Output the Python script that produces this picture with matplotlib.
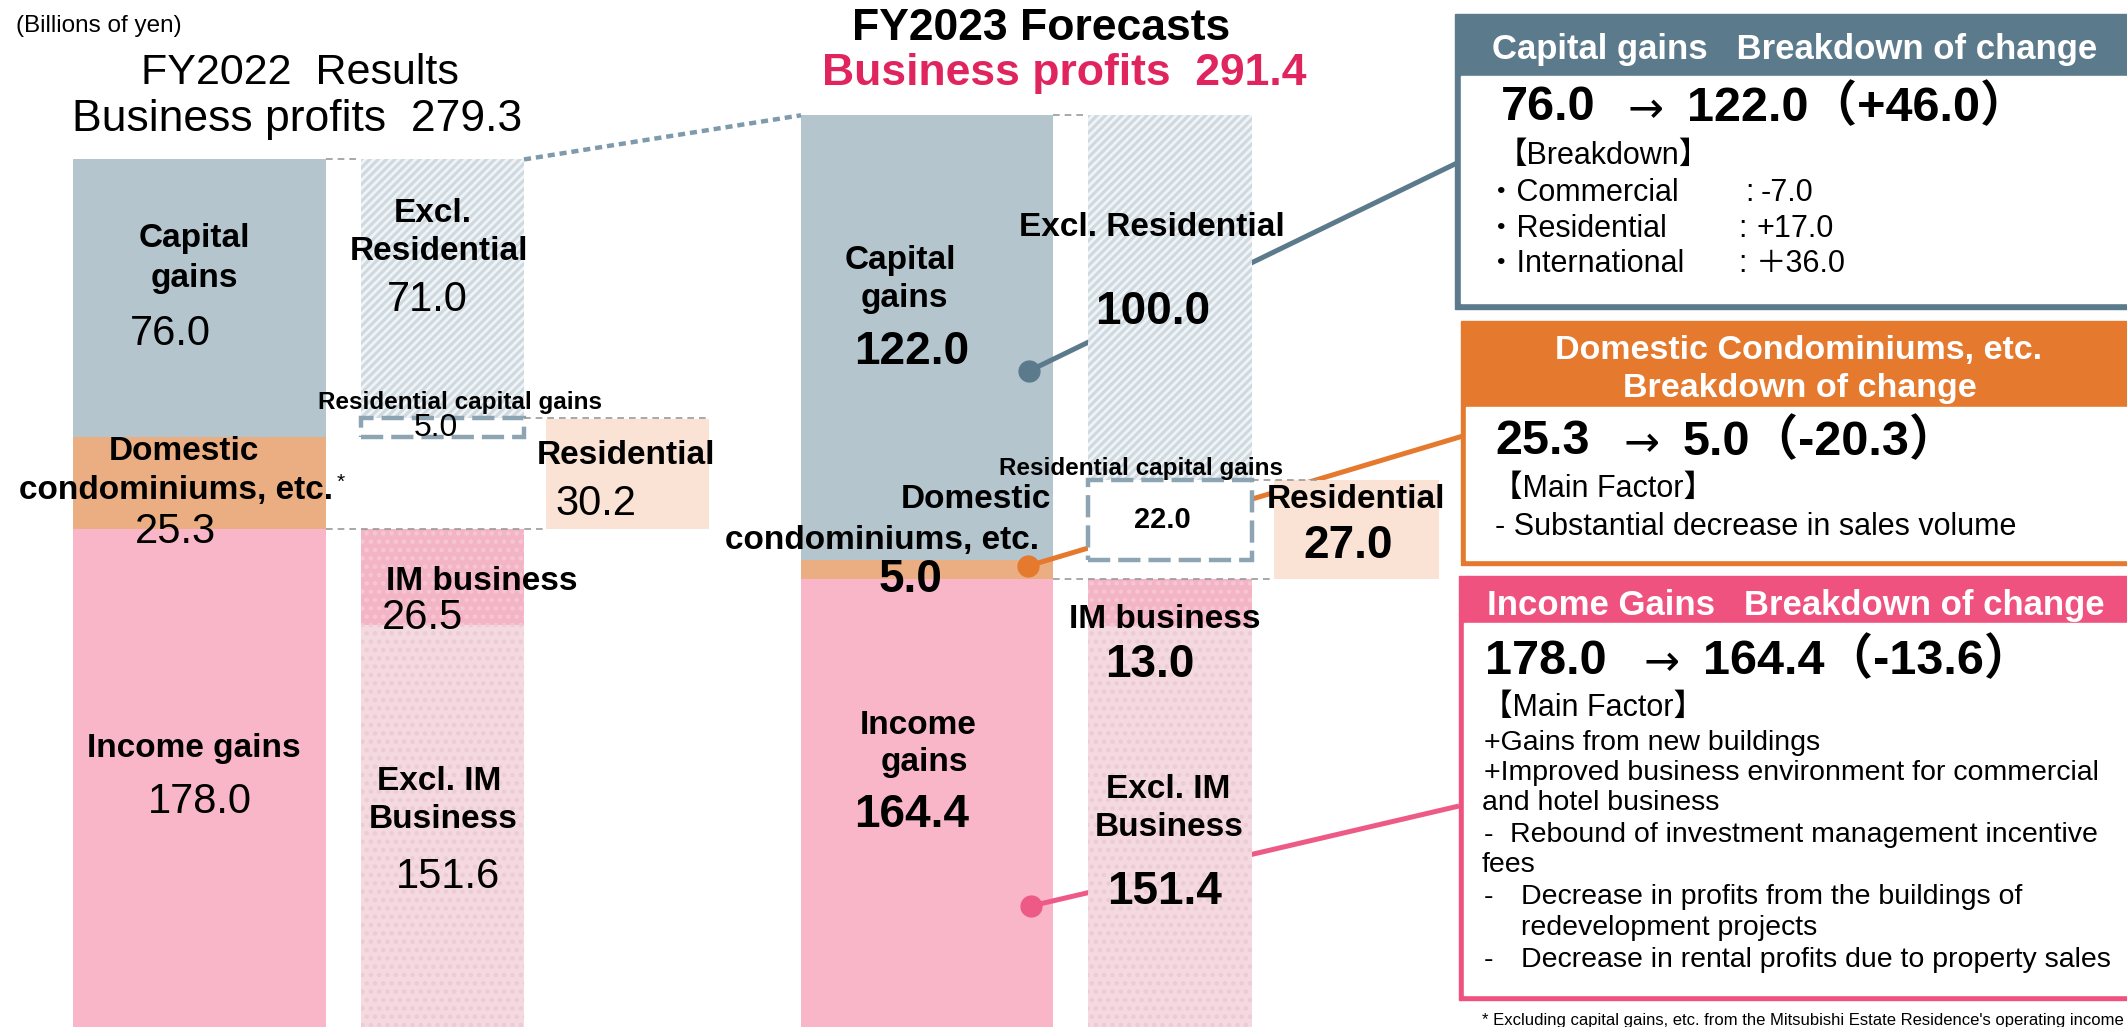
import matplotlib
matplotlib.use('Agg')
import matplotlib.pyplot as plt
from matplotlib.patches import Rectangle

plt.rcParams['font.family'] = ['Liberation Sans', 'Noto Sans CJK JP', 'DejaVu Sans']
plt.rcParams['hatch.linewidth'] = 2.0

W, H = 2127, 1027

# values, billions of yen (index 0 = FY2022 results, 1 = FY2023 forecasts)
totals = [279.3, 291.4]
capital_gains = [76.0, 122.0]
domestic_condos = [25.3, 5.0]
income_gains = [178.0, 164.4]
excl_residential = [71.0, 100.0]
residential_capital = [5.0, 22.0]
residential = [30.2, 27.0]
im_business = [26.5, 13.0]
excl_im = [151.6, 151.4]

# column layout (pixels across the figure)
main_l, main_r = [73, 801], [326, 1053]
split_l, split_r = [361, 1088], [524, 1252]
res_l, res_r = [546, 1274], [709, 1439]

C_CAP = '#B4C5CE'
C_DOM = '#EBAE82'
C_INC = '#F9B6C8'
C_HATCH = '#CFD9E0'
C_RES = '#FAE3D4'
C_IM = '#F3B4C6'
C_EXIM = '#F4D9E0'
C_SLATE = '#5B7A8B'
C_ORANGE = '#E5792E'
C_PINK = '#F0527F'

fig = plt.figure(figsize=(W / 100, H / 100), dpi=100)
ax = fig.add_axes([0, 0, 1, 1])
ax.set_xlim(0, W)
ax.set_ylim(41.5, 323)
ax.axis('off')
ov = fig.add_axes([0, 0, 1, 1])
ov.set_xlim(0, W)
ov.set_ylim(H, 0)
ov.axis('off')
ov.patch.set_visible(False)


def centers(l, r):
    return [(a + b) / 2 for a, b in zip(l, r)], [b - a for a, b in zip(l, r)]


mx, mw = centers(main_l, main_r)
sx, sw = centers(split_l, split_r)
rx, rw = centers(res_l, res_r)

cap_bottom = [i + d for i, d in zip(income_gains, domestic_condos)]
exres_bottom = [c + r for c, r in zip(cap_bottom, residential_capital)]

# main stacked bars
ax.bar(mx, income_gains, width=mw, bottom=0, color=C_INC, zorder=2)
ax.bar(mx, domestic_condos, width=mw, bottom=income_gains, color=C_DOM, zorder=2)
ax.bar(mx, capital_gains, width=mw, bottom=cap_bottom, color=C_CAP, zorder=2)

# breakdown bars
ax.bar(sx, excl_im, width=sw, bottom=0, color=C_EXIM, hatch='..',
       edgecolor='#EDCBD4', linewidth=0, zorder=4)
ax.bar(sx, im_business, width=sw, bottom=excl_im, color=C_IM, hatch='..',
       edgecolor='#F6C6D3', linewidth=0, zorder=4)
ax.bar(sx, excl_residential, width=sw, bottom=exres_bottom, color=C_HATCH,
       hatch='////', edgecolor='#F1F4F7', linewidth=0, zorder=4)
ax.bar(sx, residential_capital, width=sw, bottom=cap_bottom, color='white',
       edgecolor='#8DA5B3', linestyle=(0, (5, 1.8)), linewidth=3.2, zorder=4.5)
ax.bar(rx, residential, width=rw, bottom=income_gains, color=C_RES, zorder=4)

# thin dashed guides
dash = dict(color='#9A9A9A', lw=1.2, ls=(0, (4, 3)), zorder=5)
for k in range(2):
    ax.plot([main_r[k], split_l[k]], [totals[k]] * 2, **dash)
    ax.plot([main_r[k], res_l[k]], [income_gains[k]] * 2, **dash)
ax.plot([split_r[0], res_r[0]], [exres_bottom[0]] * 2, **dash)
ax.plot([split_r[1], res_l[1] + 45], [exres_bottom[1]] * 2, **dash)

# dotted link between the two periods
ax.plot([split_r[0], main_l[1]], [totals[0], totals[1]], color='#7F9AAA',
        lw=3.2, ls=(0, (1.6, 1.1)), zorder=5)

# leader lines to the callout boxes
lead = [((1029, 371), (1457, 163), C_SLATE),
        ((1028, 566), (1463, 436), C_ORANGE),
        ((1031, 906), (1459, 806), '#EE5A86')]
for (x0, y0), (x1, y1), c in lead:
    ax.plot([x0, x1], [y0, y1], color=c, lw=3.6, transform=ov.transData,
            zorder=3, clip_on=False, solid_capstyle='butt')
    ax.plot([x0], [y0], 'o', color=c, ms=15, transform=ov.transData,
            zorder=6, clip_on=False)


def txt(x, y, s, size, bold=False, color='black', ha='center', **kw):
    ov.text(x, y, s, fontsize=size, fontweight='bold' if bold else 'normal',
            color=color, ha=ha, va='center', **kw)


def change_line(x, y, before, arrow_x, after_x, after):
    txt(x, y, before, 35, True, ha='left')
    txt(arrow_x, y + 2, '→', 31, ha='center', family=['DejaVu Sans'])
    txt(after_x, y, after, 35, True, ha='left')


# titles
txt(16, 26, '(Billions of yen)', 17.5, ha='left')
txt(300, 73, 'FY2022  Results', 31)
txt(297, 119, 'Business profits  279.3', 32)
txt(1041, 29, 'FY2023 Forecasts', 32, bold=True)
txt(1064, 74, 'Business profits  291.4', 32, bold=True, color='#E0245E')

# FY2022 labels
txt(194, 239, 'Capital', 24, True)
txt(194, 279, 'gains', 24, True)
txt(170, 334, '76.0', 30)
txt(433, 214, 'Excl.', 24, True)
txt(439, 252, 'Residential', 24, True)
txt(427, 300, '71.0', 30)
txt(460, 402, 'Residential capital gains', 17.5, True)
txt(436, 428, '5.0', 23)
txt(184, 452, 'Domestic', 24, True)
txt(176, 491, 'condominiums, etc.', 24, True)
txt(341, 482, '*', 15)
txt(175, 532, '25.3', 30)
txt(626, 455, 'Residential', 24, True)
txt(596, 504, '30.2', 30)
txt(482, 582, 'IM business', 24, True)
txt(422, 618, '26.5', 30)
txt(194, 748, 'Income gains', 24, True)
txt(200, 802, '178.0', 30)
txt(439, 782, 'Excl. IM', 24, True)
txt(443, 820, 'Business', 24, True)
txt(448, 877, '151.6', 30)

# FY2023 labels
txt(900, 260, 'Capital', 24, True)
txt(904, 298, 'gains', 24, True)
txt(912, 352, '122.0', 33, True)
txt(1152, 228, 'Excl. Residential', 24, True)
txt(1153, 312, '100.0', 33, True)
txt(1141, 468, 'Residential capital gains', 17.5, True)
txt(1162, 520, '22.0', 21, True)
txt(1356, 500, 'Residential', 24, True)
txt(1348, 546, '27.0', 33, True)
txt(1051, 499, 'Domestic', 24, True, ha='right')
txt(1039, 540, 'condominiums, etc.', 24, True, ha='right')
txt(911, 580, '5.0', 33, True)
txt(1165, 620, 'IM business', 24, True)
txt(1150, 665, '13.0', 33, True)
txt(918, 725, 'Income', 24, True)
txt(924, 763, 'gains', 24, True)
txt(912, 815, '164.4', 33, True)
txt(1168, 790, 'Excl. IM', 24, True)
txt(1169, 828, 'Business', 24, True)
txt(1165, 892, '151.4', 33, True)

# callout boxes
boxes = [(1455, 14, 309, 76, 6, C_SLATE),
         (1461, 321, 565, 407, 5, C_ORANGE),
         (1459, 576, 1000, 623, 5, C_PINK)]
for x0, top, bot, head, bw, c in boxes:
    ov.add_patch(Rectangle((x0, top), 2200 - x0, bot - top, color=c, zorder=1))
    ov.add_patch(Rectangle((x0 + bw, head), 2200 - x0, bot - head - bw,
                           color='white', zorder=1.5))

txt(1492, 49, 'Capital gains   Breakdown of change', 25, True, 'white', ha='left')
change_line(1501, 108, '76.0', 1646, 1687, '122.0（+46.0）')
txt(1497, 156, '【Breakdown】', 22, ha='left')
rows = [('・Commercial', 193, 1745, '-7.0', 1761),
        ('・Residential', 229, 1738, '+17.0', 1756),
        ('・International', 264, 1738, '＋36.0', 1756)]
for name, y, cx, val, vx in rows:
    txt(1486, y, name, 22, ha='left')
    txt(cx, y, ':', 22, ha='left')
    txt(vx, y, val, 22, ha='left')

txt(1799, 350, 'Domestic Condominiums, etc.', 24.5, True, 'white')
txt(1800, 388, 'Breakdown of change', 24.5, True, 'white')
change_line(1495, 442, '25.3', 1641, 1683, '5.0（-20.3）')
txt(1492, 489, '【Main Factor】', 22, ha='left')
txt(1495, 527, '- Substantial decrease in sales volume', 22, ha='left')

txt(1487, 605, 'Income Gains   Breakdown of change', 25, True, 'white', ha='left')
change_line(1485, 661, '178.0', 1661, 1703, '164.4（-13.6）')
txt(1482, 708, '【Main Factor】', 22, ha='left')
txt(1484, 743, '+Gains from new buildings', 20.5, ha='left')
txt(1484, 773, '+Improved business environment for commercial', 20.5, ha='left')
txt(1482, 803, 'and hotel business', 20.5, ha='left')
txt(1484, 835, '-', 20.5, ha='left')
txt(1510, 835, 'Rebound of investment management incentive', 20.5, ha='left')
txt(1482, 865, 'fees', 20.5, ha='left')
txt(1484, 897, '-', 20.5, ha='left')
txt(1521, 897, 'Decrease in profits from the buildings of', 20.5, ha='left')
txt(1521, 928, 'redevelopment projects', 20.5, ha='left')
txt(1484, 960, '-', 20.5, ha='left')
txt(1521, 960, 'Decrease in rental profits due to property sales', 20.5, ha='left')

txt(1482, 1020, "* Excluding capital gains, etc. from the Mitsubishi Estate Residence's operating income",
    12, ha='left')

fig.savefig('out.png', dpi=100)
